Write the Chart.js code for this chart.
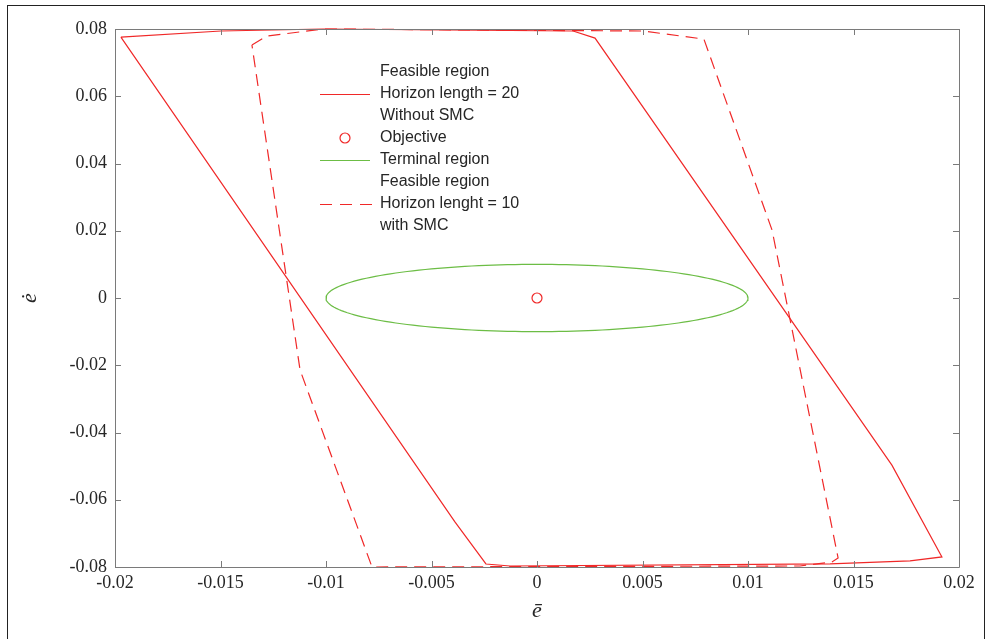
<!DOCTYPE html>
<html>
<head>
<meta charset="utf-8">
<script src="https://cdn.jsdelivr.net/npm/chart.js@4.4.1/dist/chart.umd.min.js"></script>
<style>
  html, body { margin: 0; padding: 0; background: #fff; }
  #wrap { position: relative; width: 989px; height: 639px; }
</style>
</head>
<body>
<div id="wrap"><canvas id="RegionChart" width="989" height="639"></canvas></div>
<script>
// feasible region, horizon 20, without SMC (closed polygon)
const feasible20X = [-0.01972, -0.01498, -0.01014, 0.00171, 0.00275, 0.01682, 0.01919, 0.01768, 0.01389, -0.00128, -0.00242, -0.00389, -0.01972];
const feasible20Y = [0.0776, 0.0794, 0.0800, 0.0794, 0.0773, -0.0497, -0.0770, -0.0782, -0.0791, -0.0797, -0.0791, -0.0666, 0.0776];

// feasible region, horizon 10, with SMC (closed polygon)
const feasible10X = [-0.01351, -0.01280, -0.01014, 0.00502, 0.00791, 0.01114, 0.01427, 0.01398, 0.01246, -0.00782, -0.01123, -0.01351];
const feasible10Y = [0.07524, 0.0779, 0.0800, 0.0794, 0.0770, 0.0202, -0.0773, -0.0785, -0.0797, -0.0800, -0.0214, 0.07524];

// terminal region ellipse: centre and half-axes
const terminalCentre = [0, 0];
const terminalRadii = [0.01, 0.01];

// objective point
const objectiveX = [0];
const objectiveY = [0];

const xTickValues = [-0.02, -0.015, -0.01, -0.005, 0, 0.005, 0.01, 0.015, 0.02];
const xTickLabels = ['-0.02', '-0.015', '-0.01', '-0.005', '0', '0.005', '0.01', '0.015', '0.02'];
const yTickValues = [-0.08, -0.06, -0.04, -0.02, 0, 0.02, 0.04, 0.06, 0.08];
const yTickLabels = ['-0.08', '-0.06', '-0.04', '-0.02', '0', '0.02', '0.04', '0.06', '0.08'];

const legendRows = ['Feasible region', 'Horizon length = 20', 'Without SMC', 'Objective',
                    'Terminal region', 'Feasible region', 'Horizon lenght = 10', 'with SMC'];

const RED = '#f02828';
const GREEN = '#6cbd45';

function toPoints(xs, ys) {
    return xs.map((x, i) => ({ x: x, y: ys[i] }));
}

// ellipse outline from centre and radii
const ellipsePts = [];
for (let k = 0; k <= 180; k++) {
    const t = k / 180 * 2 * Math.PI;
    ellipsePts.push({ x: terminalCentre[0] + terminalRadii[0] * Math.cos(t),
                      y: terminalCentre[1] + terminalRadii[1] * Math.sin(t) });
}

// box, inward ticks, legend, axis titles, outer frame
const decorPlugin = {
    id: 'decor',
    afterDraw(chart) {
        const ctx = chart.ctx;
        const a = chart.chartArea;
        const xs = chart.scales.x, ys = chart.scales.y;
        ctx.save();
        ctx.strokeStyle = '#7a7a7a';
        ctx.lineWidth = 1;
        ctx.beginPath();
        ctx.rect(Math.round(a.left) + 0.5, Math.round(a.top) + 0.5,
                 Math.round(a.right - a.left), Math.round(a.bottom - a.top));
        ctx.stroke();
        ctx.beginPath();
        xTickValues.forEach(v => {
            const px = Math.round(xs.getPixelForValue(v)) + 0.5;
            ctx.moveTo(px, a.bottom); ctx.lineTo(px, a.bottom - 6);
            ctx.moveTo(px, a.top); ctx.lineTo(px, a.top + 6);
        });
        yTickValues.forEach(v => {
            const py = Math.round(ys.getPixelForValue(v)) + 0.5;
            ctx.moveTo(a.left, py); ctx.lineTo(a.left + 6, py);
            ctx.moveTo(a.right, py); ctx.lineTo(a.right - 6, py);
        });
        ctx.stroke();

        // legend
        const lx = 320, tx = 380, ty0 = 72, dy = 22;
        ctx.font = '16px "Liberation Sans", Arial, sans-serif';
        ctx.fillStyle = '#262626';
        ctx.textBaseline = 'middle';
        ctx.textAlign = 'left';
        legendRows.forEach((s, i) => ctx.fillText(s, tx, ty0 + i * dy));
        ctx.lineWidth = 1.2;
        ctx.strokeStyle = RED;
        ctx.beginPath(); ctx.moveTo(lx, ty0 + dy + 0.5); ctx.lineTo(lx + 50, ty0 + dy + 0.5); ctx.stroke();
        ctx.beginPath(); ctx.arc(lx + 25, ty0 + 3 * dy, 5, 0, 2 * Math.PI); ctx.stroke();
        ctx.setLineDash([12, 8]);
        ctx.beginPath(); ctx.moveTo(lx, ty0 + 6 * dy + 0.5); ctx.lineTo(lx + 52, ty0 + 6 * dy + 0.5); ctx.stroke();
        ctx.setLineDash([]);
        ctx.strokeStyle = GREEN;
        ctx.beginPath(); ctx.moveTo(lx, ty0 + 4 * dy + 0.5); ctx.lineTo(lx + 50, ty0 + 4 * dy + 0.5); ctx.stroke();

        // axis titles
        ctx.fillStyle = '#262626';
        ctx.font = 'italic 22px "Liberation Serif", serif';
        ctx.textAlign = 'center';
        ctx.fillText('\u0113', (a.left + a.right) / 2, 611);
        ctx.translate(30, (a.top + a.bottom) / 2);
        ctx.rotate(-Math.PI / 2);
        ctx.fillText('\u0117', 0, 0);
        ctx.restore();

        // outer frame
        ctx.save();
        ctx.strokeStyle = '#222';
        ctx.lineWidth = 1;
        ctx.strokeRect(7.5, 5.5, 977, 700);
        ctx.restore();
    }
};

const ctx = document.getElementById('RegionChart').getContext('2d');
new Chart(ctx, {
    type: 'scatter',
    data: {
        datasets: [
            {
                label: 'Feasible region N=20',
                data: toPoints(feasible20X, feasible20Y),
                showLine: true, borderColor: RED, borderWidth: 1.2,
                pointRadius: 0, fill: false, clip: false
            },
            {
                label: 'Objective',
                data: toPoints(objectiveX, objectiveY),
                showLine: false, pointRadius: 5, pointStyle: 'circle',
                borderColor: RED, backgroundColor: 'rgba(0,0,0,0)', pointBorderWidth: 1.2,
                clip: false
            },
            {
                label: 'Terminal region',
                data: ellipsePts,
                showLine: true, borderColor: GREEN, borderWidth: 1.2,
                pointRadius: 0, fill: false, clip: false
            },
            {
                label: 'Feasible region N=10',
                data: toPoints(feasible10X, feasible10Y),
                showLine: true, borderColor: RED, borderWidth: 1.2, borderDash: [12, 7],
                pointRadius: 0, fill: false, clip: false
            }
        ]
    },
    options: {
        responsive: false,
        animation: false,
        layout: { padding: { left: 0, top: 29, right: 30, bottom: 0 } },
        plugins: { legend: { display: false }, tooltip: { enabled: false } },
        scales: {
            x: {
                type: 'linear', min: -0.02, max: 0.02,
                afterBuildTicks: s => { s.ticks = xTickValues.map(v => ({ value: v })); },
                afterFit: s => { s.height = 72; },
                grid: { display: false, drawTicks: false },
                border: { display: false },
                ticks: {
                    padding: 5,
                    color: '#262626',
                    font: { family: '"Liberation Serif", serif', size: 18 },
                    callback: (v, i) => xTickLabels[i]
                }
            },
            y: {
                type: 'linear', min: -0.08, max: 0.08,
                afterBuildTicks: s => { s.ticks = yTickValues.map(v => ({ value: v })); },
                afterFit: s => { s.width = 115; },
                grid: { display: false, drawTicks: false },
                border: { display: false },
                ticks: {
                    padding: 8,
                    color: '#262626',
                    font: { family: '"Liberation Serif", serif', size: 18 },
                    callback: (v, i) => yTickLabels[i]
                }
            }
        }
    },
    plugins: [decorPlugin]
});
</script>
</body>
</html>
